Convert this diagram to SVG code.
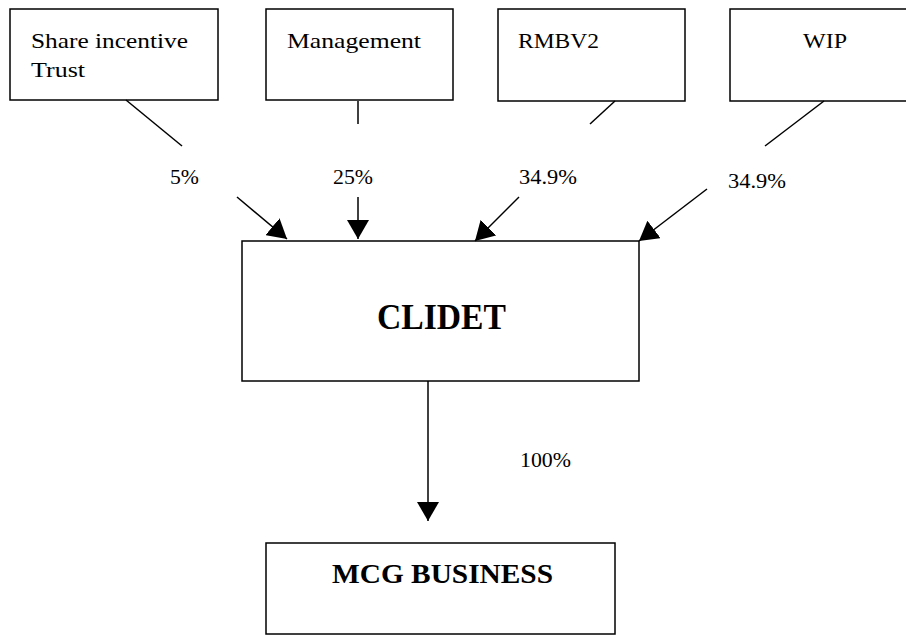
<svg xmlns="http://www.w3.org/2000/svg" width="906" height="635" viewBox="0 0 906 635">
<style>
.box{fill:#fff;stroke:#000;stroke-width:1.5}
.t{font-family:"Liberation Serif","Times New Roman",serif;font-size:22px;fill:#000}
.b{font-family:"Liberation Serif","Times New Roman",serif;font-weight:bold;fill:#000}
.p{font-family:"Liberation Serif","Times New Roman",serif;font-size:20px;fill:#000}
.c{stroke:#000;stroke-width:1.5;fill:none}
</style>
<defs>
<marker id="ah" viewBox="0 0 19 22" refX="19" refY="11" markerWidth="19" markerHeight="22" markerUnits="userSpaceOnUse" orient="auto">
<path d="M0,0 L19,11 L0,22 Z" fill="#000"/>
</marker>
</defs>
<rect width="906" height="635" fill="#fff"/>
<g id="node-share">
<rect class="box" x="10" y="9" width="208" height="91"/>
<text class="t" x="31" y="48" textLength="157" lengthAdjust="spacingAndGlyphs">Share incentive</text>
<text class="t" x="31" y="77" textLength="54" lengthAdjust="spacingAndGlyphs">Trust</text>
</g>
<g id="node-management">
<rect class="box" x="266" y="9" width="187" height="91"/>
<text class="t" x="287" y="48" textLength="134" lengthAdjust="spacingAndGlyphs">Management</text>
</g>
<g id="node-rmbv2">
<rect class="box" x="498" y="9" width="187" height="92"/>
<text class="t" x="518" y="48" textLength="81" lengthAdjust="spacingAndGlyphs">RMBV2</text>
</g>
<g id="node-wip">
<rect class="box" x="730" y="9" width="190" height="92"/>
<text class="t" x="803" y="48" textLength="44" lengthAdjust="spacingAndGlyphs">WIP</text>
</g>
<g id="node-clidet">
<rect class="box" x="242" y="241" width="397" height="140"/>
<text class="b" x="377" y="329" font-size="36" textLength="129" lengthAdjust="spacingAndGlyphs">CLIDET</text>
</g>
<g id="node-mcg">
<rect class="box" x="266" y="543" width="349" height="91"/>
<text class="b" x="332" y="583" font-size="27" textLength="221" lengthAdjust="spacingAndGlyphs">MCG BUSINESS</text>
</g>
<g id="connectors">
<line class="c" x1="126" y1="100" x2="182" y2="146"/>
<line class="c" x1="237" y1="197" x2="287" y2="239" marker-end="url(#ah)"/>
<line class="c" x1="358" y1="101" x2="358" y2="124"/>
<line class="c" x1="358" y1="197" x2="358" y2="239" marker-end="url(#ah)"/>
<line class="c" x1="615" y1="101" x2="590" y2="124"/>
<line class="c" x1="519" y1="197" x2="475" y2="241" marker-end="url(#ah)"/>
<line class="c" x1="824" y1="101" x2="765" y2="146"/>
<line class="c" x1="707" y1="189" x2="639" y2="241" marker-end="url(#ah)"/>
<line class="c" x1="428" y1="381" x2="428" y2="521" marker-end="url(#ah)"/>
<text class="p" x="170" y="184" textLength="29" lengthAdjust="spacingAndGlyphs">5%</text>
<text class="p" x="333" y="184" textLength="40" lengthAdjust="spacingAndGlyphs">25%</text>
<text class="p" x="519" y="184" textLength="58" lengthAdjust="spacingAndGlyphs">34.9%</text>
<text class="p" x="728" y="188" textLength="58" lengthAdjust="spacingAndGlyphs">34.9%</text>
<text class="p" x="520" y="467" textLength="51" lengthAdjust="spacingAndGlyphs">100%</text>
</g>
</svg>
